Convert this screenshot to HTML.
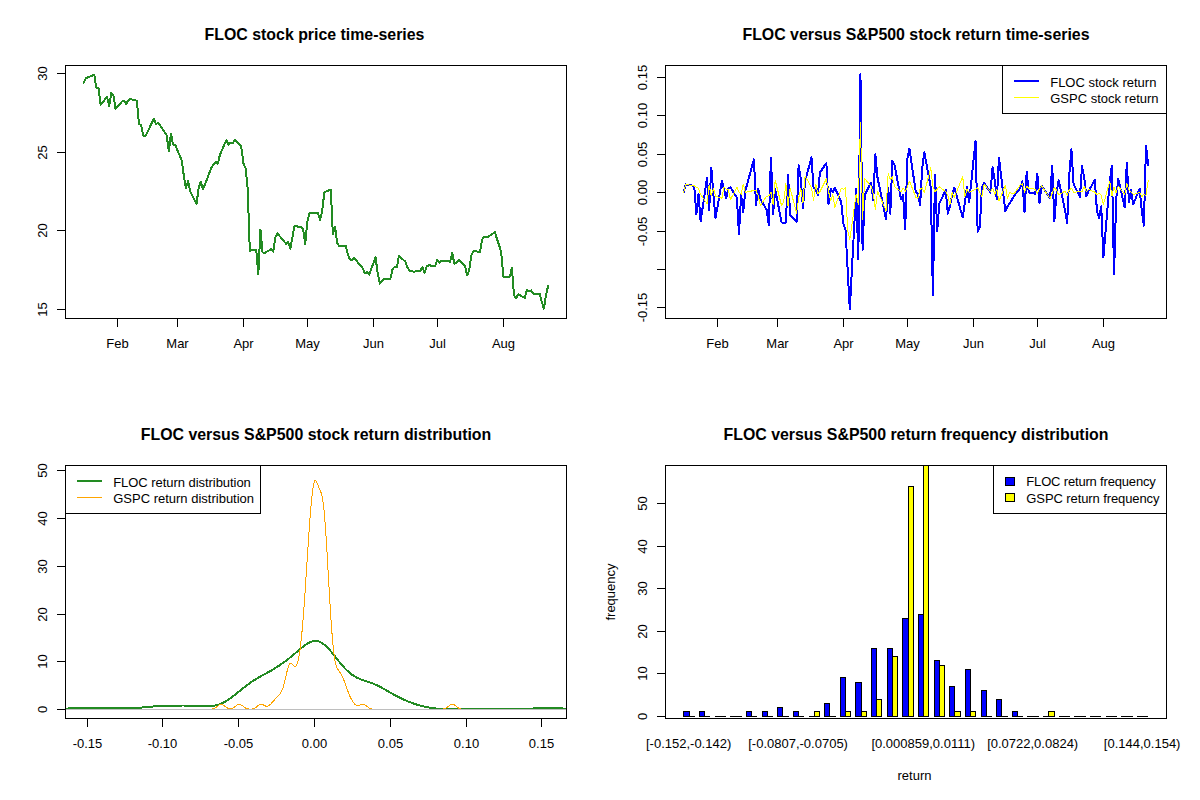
<!DOCTYPE html>
<html><head><meta charset="utf-8"><style>
html,body{margin:0;padding:0;background:#fff;}
svg{display:block;font-family:"Liberation Sans", sans-serif;}
</style></head><body>
<svg width="1200" height="800" viewBox="0 0 1200 800" shape-rendering="crispEdges">
<defs><clipPath id="c2"><rect x="666" y="66" width="500" height="252"/></clipPath><clipPath id="c3"><rect x="66" y="466" width="500" height="252"/></clipPath><clipPath id="c4"><rect x="666" y="466" width="500" height="252"/></clipPath></defs>
<rect width="1200" height="800" fill="#fff"/>
<rect x="65" y="65" width="502" height="1" fill="#000"/>
<rect x="65" y="318" width="502" height="1" fill="#000"/>
<rect x="65" y="65" width="1" height="254" fill="#000"/>
<rect x="566" y="65" width="1" height="254" fill="#000"/>
<rect x="117" y="319" width="1" height="8" fill="#000"/>
<text x="117.5" y="348" font-size="13" text-anchor="middle" font-weight="normal" fill="#000">Feb</text>
<rect x="177" y="319" width="1" height="8" fill="#000"/>
<text x="177.5" y="348" font-size="13" text-anchor="middle" font-weight="normal" fill="#000">Mar</text>
<rect x="243" y="319" width="1" height="8" fill="#000"/>
<text x="243.5" y="348" font-size="13" text-anchor="middle" font-weight="normal" fill="#000">Apr</text>
<rect x="307" y="319" width="1" height="8" fill="#000"/>
<text x="307.5" y="348" font-size="13" text-anchor="middle" font-weight="normal" fill="#000">May</text>
<rect x="373" y="319" width="1" height="8" fill="#000"/>
<text x="373.5" y="348" font-size="13" text-anchor="middle" font-weight="normal" fill="#000">Jun</text>
<rect x="437" y="319" width="1" height="8" fill="#000"/>
<text x="437.5" y="348" font-size="13" text-anchor="middle" font-weight="normal" fill="#000">Jul</text>
<rect x="503" y="319" width="1" height="8" fill="#000"/>
<text x="503.5" y="348" font-size="13" text-anchor="middle" font-weight="normal" fill="#000">Aug</text>
<rect x="57" y="309" width="8" height="1" fill="#000"/>
<text x="0" y="0" transform="translate(47,309.5) rotate(-90)" font-size="13" text-anchor="middle" font-weight="normal" fill="#000">15</text>
<rect x="57" y="230" width="8" height="1" fill="#000"/>
<text x="0" y="0" transform="translate(47,230.5) rotate(-90)" font-size="13" text-anchor="middle" font-weight="normal" fill="#000">20</text>
<rect x="57" y="152" width="8" height="1" fill="#000"/>
<text x="0" y="0" transform="translate(47,152.5) rotate(-90)" font-size="13" text-anchor="middle" font-weight="normal" fill="#000">25</text>
<rect x="57" y="73" width="8" height="1" fill="#000"/>
<text x="0" y="0" transform="translate(47,73.5) rotate(-90)" font-size="13" text-anchor="middle" font-weight="normal" fill="#000">30</text>
<text x="314.5" y="39.5" font-size="15.9" text-anchor="middle" font-weight="bold" fill="#000">FLOC stock price time-series</text>
<rect x="665" y="65" width="502" height="1" fill="#000"/>
<rect x="665" y="318" width="502" height="1" fill="#000"/>
<rect x="665" y="65" width="1" height="254" fill="#000"/>
<rect x="1166" y="65" width="1" height="254" fill="#000"/>
<rect x="717" y="319" width="1" height="8" fill="#000"/>
<text x="717.5" y="348" font-size="13" text-anchor="middle" font-weight="normal" fill="#000">Feb</text>
<rect x="777" y="319" width="1" height="8" fill="#000"/>
<text x="777.5" y="348" font-size="13" text-anchor="middle" font-weight="normal" fill="#000">Mar</text>
<rect x="843" y="319" width="1" height="8" fill="#000"/>
<text x="843.5" y="348" font-size="13" text-anchor="middle" font-weight="normal" fill="#000">Apr</text>
<rect x="907" y="319" width="1" height="8" fill="#000"/>
<text x="907.5" y="348" font-size="13" text-anchor="middle" font-weight="normal" fill="#000">May</text>
<rect x="973" y="319" width="1" height="8" fill="#000"/>
<text x="973.5" y="348" font-size="13" text-anchor="middle" font-weight="normal" fill="#000">Jun</text>
<rect x="1037" y="319" width="1" height="8" fill="#000"/>
<text x="1037.5" y="348" font-size="13" text-anchor="middle" font-weight="normal" fill="#000">Jul</text>
<rect x="1103" y="319" width="1" height="8" fill="#000"/>
<text x="1103.5" y="348" font-size="13" text-anchor="middle" font-weight="normal" fill="#000">Aug</text>
<rect x="657" y="77" width="8" height="1" fill="#000"/>
<text x="0" y="0" transform="translate(647,77.5) rotate(-90)" font-size="13" text-anchor="middle" font-weight="normal" fill="#000">0.15</text>
<rect x="657" y="115" width="8" height="1" fill="#000"/>
<text x="0" y="0" transform="translate(647,115.5) rotate(-90)" font-size="13" text-anchor="middle" font-weight="normal" fill="#000">0.10</text>
<rect x="657" y="154" width="8" height="1" fill="#000"/>
<text x="0" y="0" transform="translate(647,154.5) rotate(-90)" font-size="13" text-anchor="middle" font-weight="normal" fill="#000">0.05</text>
<rect x="657" y="192" width="8" height="1" fill="#000"/>
<text x="0" y="0" transform="translate(647,192.5) rotate(-90)" font-size="13" text-anchor="middle" font-weight="normal" fill="#000">0.00</text>
<rect x="657" y="231" width="8" height="1" fill="#000"/>
<text x="0" y="0" transform="translate(647,231.5) rotate(-90)" font-size="13" text-anchor="middle" font-weight="normal" fill="#000">-0.05</text>
<rect x="657" y="269" width="8" height="1" fill="#000"/>
<rect x="657" y="307" width="8" height="1" fill="#000"/>
<text x="0" y="0" transform="translate(647,307.5) rotate(-90)" font-size="13" text-anchor="middle" font-weight="normal" fill="#000">-0.15</text>
<text x="916" y="39.5" font-size="15.9" text-anchor="middle" font-weight="bold" fill="#000">FLOC versus S&amp;P500 stock return time-series</text>
<rect x="65" y="465" width="502" height="1" fill="#000"/>
<rect x="65" y="718" width="502" height="1" fill="#000"/>
<rect x="65" y="465" width="1" height="254" fill="#000"/>
<rect x="566" y="465" width="1" height="254" fill="#000"/>
<rect x="87" y="719" width="1" height="8" fill="#000"/>
<text x="87.5" y="748" font-size="13" text-anchor="middle" font-weight="normal" fill="#000">-0.15</text>
<rect x="162" y="719" width="1" height="8" fill="#000"/>
<text x="162.5" y="748" font-size="13" text-anchor="middle" font-weight="normal" fill="#000">-0.10</text>
<rect x="238" y="719" width="1" height="8" fill="#000"/>
<text x="238.5" y="748" font-size="13" text-anchor="middle" font-weight="normal" fill="#000">-0.05</text>
<rect x="314" y="719" width="1" height="8" fill="#000"/>
<text x="314.5" y="748" font-size="13" text-anchor="middle" font-weight="normal" fill="#000">0.00</text>
<rect x="390" y="719" width="1" height="8" fill="#000"/>
<text x="390.5" y="748" font-size="13" text-anchor="middle" font-weight="normal" fill="#000">0.05</text>
<rect x="466" y="719" width="1" height="8" fill="#000"/>
<text x="466.5" y="748" font-size="13" text-anchor="middle" font-weight="normal" fill="#000">0.10</text>
<rect x="541" y="719" width="1" height="8" fill="#000"/>
<text x="541.5" y="748" font-size="13" text-anchor="middle" font-weight="normal" fill="#000">0.15</text>
<rect x="57" y="709" width="8" height="1" fill="#000"/>
<text x="0" y="0" transform="translate(47,709.5) rotate(-90)" font-size="13" text-anchor="middle" font-weight="normal" fill="#000">0</text>
<rect x="57" y="661" width="8" height="1" fill="#000"/>
<text x="0" y="0" transform="translate(47,661.5) rotate(-90)" font-size="13" text-anchor="middle" font-weight="normal" fill="#000">10</text>
<rect x="57" y="614" width="8" height="1" fill="#000"/>
<text x="0" y="0" transform="translate(47,614.5) rotate(-90)" font-size="13" text-anchor="middle" font-weight="normal" fill="#000">20</text>
<rect x="57" y="566" width="8" height="1" fill="#000"/>
<text x="0" y="0" transform="translate(47,566.5) rotate(-90)" font-size="13" text-anchor="middle" font-weight="normal" fill="#000">30</text>
<rect x="57" y="518" width="8" height="1" fill="#000"/>
<text x="0" y="0" transform="translate(47,518.5) rotate(-90)" font-size="13" text-anchor="middle" font-weight="normal" fill="#000">40</text>
<rect x="57" y="470" width="8" height="1" fill="#000"/>
<text x="0" y="0" transform="translate(47,470.5) rotate(-90)" font-size="13" text-anchor="middle" font-weight="normal" fill="#000">50</text>
<text x="316" y="439.5" font-size="15.9" text-anchor="middle" font-weight="bold" fill="#000">FLOC versus S&amp;P500 stock return distribution</text>
<rect x="665" y="465" width="502" height="1" fill="#000"/>
<rect x="665" y="718" width="502" height="1" fill="#000"/>
<rect x="665" y="465" width="1" height="254" fill="#000"/>
<rect x="1166" y="465" width="1" height="254" fill="#000"/>
<rect x="657" y="716" width="8" height="1" fill="#000"/>
<text x="0" y="0" transform="translate(647,716.5) rotate(-90)" font-size="13" text-anchor="middle" font-weight="normal" fill="#000">0</text>
<rect x="657" y="673" width="8" height="1" fill="#000"/>
<text x="0" y="0" transform="translate(647,673.5) rotate(-90)" font-size="13" text-anchor="middle" font-weight="normal" fill="#000">10</text>
<rect x="657" y="631" width="8" height="1" fill="#000"/>
<text x="0" y="0" transform="translate(647,631.5) rotate(-90)" font-size="13" text-anchor="middle" font-weight="normal" fill="#000">20</text>
<rect x="657" y="588" width="8" height="1" fill="#000"/>
<text x="0" y="0" transform="translate(647,588.5) rotate(-90)" font-size="13" text-anchor="middle" font-weight="normal" fill="#000">30</text>
<rect x="657" y="546" width="8" height="1" fill="#000"/>
<text x="0" y="0" transform="translate(647,546.5) rotate(-90)" font-size="13" text-anchor="middle" font-weight="normal" fill="#000">40</text>
<rect x="657" y="503" width="8" height="1" fill="#000"/>
<text x="0" y="0" transform="translate(647,503.5) rotate(-90)" font-size="13" text-anchor="middle" font-weight="normal" fill="#000">50</text>
<text x="916" y="439.5" font-size="15.9" text-anchor="middle" font-weight="bold" fill="#000">FLOC versus S&amp;P500 return frequency distribution</text>
<text x="0" y="0" transform="translate(614.5,592) rotate(-90)" font-size="13" text-anchor="middle" font-weight="normal" fill="#000">frequency</text>
<text x="914.5" y="779.5" font-size="13" text-anchor="middle" font-weight="normal" fill="#000">return</text>
<text x="688.6129999999999" y="748" font-size="13" text-anchor="middle" font-weight="normal" fill="#000">[-0.152,-0.142)</text>
<text x="798.086" y="748" font-size="13" text-anchor="middle" font-weight="normal" fill="#000">[-0.0807,-0.0705)</text>
<text x="923.198" y="748" font-size="13" text-anchor="middle" font-weight="normal" fill="#000">[0.000859,0.0111)</text>
<text x="1032.671" y="748" font-size="13" text-anchor="middle" font-weight="normal" fill="#000">[0.0722,0.0824)</text>
<text x="1142.144" y="748" font-size="13" text-anchor="middle" font-weight="normal" fill="#000">[0.144,0.154)</text>
<polyline points="83.59,82.90 85.72,78.30 94.24,74.70 96.37,88.00 98.50,88.50 100.63,104.70 107.03,96.90 109.16,106.00 111.29,92.70 113.42,95.30 115.55,109.00 121.94,101.50 124.07,101.00 126.20,104.00 128.33,100.30 130.47,99.00 136.86,100.70 138.99,124.00 141.12,125.00 143.25,135.80 145.38,136.25 153.91,118.75 156.04,124.20 158.17,122.90 160.30,125.80 166.69,135.40 168.82,151.25 170.95,133.50 173.08,144.50 175.21,145.00 181.61,160.00 183.74,175.00 185.87,188.50 188.00,181.00 190.13,191.00 196.52,203.75 198.65,188.30 200.79,181.70 202.92,188.75 205.05,184.50 211.44,167.50 213.57,164.60 215.70,162.00 217.83,163.75 219.96,154.60 226.36,140.00 228.49,144.60 230.62,142.90 232.75,142.90 234.88,140.00 241.27,146.70 243.40,163.30 245.53,168.00 247.66,188.00 249.80,250.80 256.19,249.60 258.32,274.20 260.45,229.60 262.58,252.50 264.71,252.90 271.10,249.20 273.24,251.70 275.37,237.50 277.50,233.50 286.02,243.75 288.15,241.70 290.28,248.75 292.41,237.50 294.54,225.80 300.94,227.30 303.07,229.00 305.20,243.75 307.33,221.70 309.46,212.90 315.85,212.90 317.98,213.30 320.12,220.00 322.25,210.40 324.38,192.20 330.77,189.60 332.90,234.60 335.03,226.70 337.16,243.00 339.29,246.00 345.69,246.00 347.82,254.20 349.95,259.60 352.08,260.00 354.21,257.90 362.73,268.30 364.86,273.30 367.00,272.10 369.13,274.60 375.52,257.50 377.65,272.50 379.78,283.75 381.91,280.80 384.04,278.75 390.44,278.75 392.57,269.20 394.70,266.70 396.83,267.50 398.96,255.80 405.35,261.70 407.48,267.50 409.61,270.80 413.88,271.70 420.27,270.80 422.40,267.10 424.53,272.90 426.66,266.25 428.79,265.40 435.18,265.80 437.31,260.00 439.45,262.90 441.58,260.60 450.10,261.70 452.23,252.90 454.36,263.75 456.49,262.50 458.62,260.00 465.02,265.80 467.15,275.40 469.28,270.00 471.41,255.00 473.54,250.80 479.93,252.00 482.06,239.60 484.19,236.70 486.33,236.70 488.46,236.70 494.85,232.10 496.98,239.20 499.11,245.00 501.24,253.00 503.37,276.70 509.77,276.70 511.90,268.00 514.03,295.40 516.16,298.00 518.29,294.20 524.68,298.00 526.81,290.00 528.94,291.25 531.07,290.40 533.21,293.75 539.60,293.75 541.73,301.70 543.86,308.75 545.99,295.00 548.12,285.80" fill="none" stroke="#228B22" stroke-width="2" stroke-linejoin="round" stroke-linecap="round"/>
<g clip-path="url(#c2)">
<polyline points="683.59,192.50 685.72,184.40 694.24,186.00 696.37,214.40 698.50,193.75 700.63,221.25 707.03,178.10 709.16,210.00 711.29,167.50 713.42,195.00 715.55,218.10 721.94,180.60 724.07,190.00 726.20,198.00 728.33,188.75 730.47,187.50 736.86,197.50 738.99,233.75 741.12,195.00 743.25,212.00 745.38,190.50 753.91,159.40 756.04,205.00 758.17,188.75 760.30,198.75 766.69,210.00 768.82,225.00 770.95,157.50 773.08,214.40 775.21,189.40 781.61,222.50 783.74,222.50 785.87,222.50 788.00,174.40 790.13,215.00 796.52,221.90 798.65,165.00 800.79,178.75 802.92,208.10 805.05,181.25 811.44,157.50 813.57,187.50 815.70,189.40 817.83,195.00 819.96,172.50 826.36,163.10 828.49,204.40 830.62,188.75 832.75,192.50 834.88,187.50 841.27,202.50 843.40,224.00 845.53,230.00 847.66,270.00 849.80,309.40 856.19,189.00 858.32,259.20 860.45,74.25 862.58,249.80 864.71,195.00 871.10,182.50 873.24,200.00 875.37,154.40 877.50,177.50 886.02,219.40 888.15,187.50 890.28,213.75 892.41,160.60 894.54,165.00 900.94,198.75 903.07,195.00 905.20,229.40 907.33,158.75 909.46,148.75 915.85,192.50 917.98,193.75 920.12,205.00 922.25,167.50 924.38,152.50 930.77,187.50 932.90,295.50 935.03,174.40 937.16,231.25 939.29,203.75 945.69,190.00 947.82,213.75 949.95,206.00 952.08,195.00 954.21,187.50 962.73,217.50 964.86,202.50 967.00,186.90 969.13,202.50 975.52,141.25 977.65,231.90 979.78,227.50 981.91,187.50 984.04,183.10 990.44,192.50 992.57,167.50 994.70,180.00 996.83,199.40 998.96,157.50 1005.35,211.25 1007.48,206.25 1009.61,203.75 1013.88,196.25 1020.27,188.00 1022.40,181.25 1024.53,211.90 1026.66,171.90 1028.79,192.50 1035.18,193.75 1037.32,173.75 1039.45,203.10 1041.58,185.60 1050.10,198.10 1052.23,165.60 1054.36,221.25 1056.49,193.75 1058.62,180.00 1065.02,210.00 1067.15,223.10 1069.28,175.00 1071.41,149.40 1073.54,183.75 1079.93,196.90 1082.06,166.25 1084.19,177.50 1086.33,196.25 1088.46,191.25 1094.85,180.00 1096.98,211.25 1099.11,218.10 1101.24,206.25 1103.37,257.50 1109.77,181.00 1111.90,165.60 1114.03,274.40 1116.16,200.00 1118.29,178.75 1124.68,207.50 1126.81,163.10 1128.94,201.90 1131.07,190.00 1133.21,204.40 1139.60,188.75 1141.73,210.00 1143.86,225.60 1145.99,145.60 1148.12,165.00" fill="none" stroke="#0000FF" stroke-width="2" stroke-linejoin="round" stroke-linecap="round"/>
<polyline points="683.59,192.30 685.72,184.67 694.24,185.58 696.37,187.64 698.50,188.25 700.63,194.53 707.03,203.58 709.16,185.28 711.29,195.91 713.42,188.25 715.55,196.14 721.94,198.15 724.07,186.80 726.20,189.32 728.33,189.54 730.47,199.62 736.86,187.18 738.99,192.07 741.12,194.37 743.25,184.37 745.38,192.38 753.91,190.46 756.04,190.46 758.17,195.60 760.30,205.52 766.69,196.14 768.82,195.91 770.95,192.22 773.08,204.59 775.21,180.21 781.61,205.91 783.74,201.71 785.87,183.76 788.00,206.07 790.13,188.09 796.52,213.29 798.65,198.15 800.79,188.55 802.92,203.03 805.05,176.14 811.44,187.41 813.57,200.55 815.70,184.06 817.83,193.99 819.96,191.69 826.36,178.92 828.49,191.07 830.62,200.94 832.75,194.83 834.88,207.55 841.27,188.09 843.40,189.39 845.53,187.18 847.66,230.34 849.80,239.50 856.19,194.07 858.32,204.43 860.45,122.58 862.58,219.30 864.71,178.55 871.10,186.27 873.24,193.60 875.37,209.67 877.50,191.30 886.02,210.61 888.15,173.29 890.28,179.60 892.41,176.89 894.54,186.65 900.94,191.84 903.07,187.87 905.20,191.15 907.33,187.48 909.46,181.11 915.85,197.22 917.98,198.23 920.12,189.01 922.25,187.87 924.38,192.84 930.77,167.70 932.90,186.80 935.03,191.53 937.16,189.16 939.29,186.95 945.69,191.61 947.82,195.30 949.95,204.74 952.08,192.61 954.21,197.45 962.73,176.74 964.86,196.61 967.00,189.24 969.13,192.38 975.52,189.16 977.65,187.87 979.78,192.22 981.91,196.37 984.04,184.44 990.44,191.61 992.57,188.09 994.70,194.37 996.83,189.39 998.96,201.01 1005.35,185.13 1007.48,198.77 1009.61,192.53 1013.88,193.99 1020.27,184.97 1022.40,183.84 1024.53,192.30 1026.66,186.19 1028.79,188.32 1035.18,189.16 1037.32,193.14 1039.45,188.70 1041.58,185.96 1050.10,198.38 1052.23,192.84 1054.36,187.64 1056.49,190.23 1058.62,194.83 1065.02,191.23 1067.15,195.37 1069.28,189.85 1071.41,188.17 1073.54,192.38 1079.93,191.23 1082.06,191.84 1084.19,186.34 1086.33,191.76 1088.46,189.24 1094.85,192.15 1096.98,194.60 1099.11,193.22 1101.24,195.14 1103.37,204.67 1109.77,181.11 1111.90,196.07 1114.03,186.72 1116.16,192.91 1118.29,186.34 1124.68,194.22 1126.81,183.68 1128.94,189.85 1131.07,192.07 1133.21,194.53 1139.60,192.38 1141.73,196.84 1143.86,194.14 1145.99,195.37 1148.12,180.73" fill="none" stroke="#FFFF00" stroke-width="1" stroke-linejoin="round" stroke-linecap="round"/>
</g>
<rect x="1002" y="65" width="165" height="49" fill="#fff"/>
<rect x="1002" y="65" width="165" height="1" fill="#000"/>
<rect x="1002" y="113" width="165" height="1" fill="#000"/>
<rect x="1002" y="65" width="1" height="49" fill="#000"/>
<rect x="1166" y="65" width="1" height="49" fill="#000"/>
<rect x="1014" y="80" width="25" height="2" fill="#0000FF"/>
<rect x="1014" y="97" width="25" height="1" fill="#FFFF00"/>
<text x="1050.2" y="86.7" font-size="13" text-anchor="start" font-weight="normal" fill="#000">FLOC stock return</text>
<text x="1050.2" y="102.5" font-size="13" text-anchor="start" font-weight="normal" fill="#000">GSPC stock return</text>
<g clip-path="url(#c3)">
<polyline points="39.58,709.29 40.66,709.28 41.74,709.28 42.82,709.27 43.90,709.27 44.98,709.26 46.06,709.25 47.13,709.24 48.21,709.23 49.29,709.21 50.37,709.20 51.45,709.18 52.53,709.15 53.61,709.13 54.69,709.10 55.77,709.07 56.85,709.04 57.93,709.00 59.01,708.96 60.09,708.92 61.17,708.87 62.25,708.82 63.33,708.77 64.41,708.71 65.49,708.65 66.57,708.59 67.65,708.53 68.73,708.46 69.81,708.40 70.89,708.34 71.97,708.27 73.05,708.21 74.13,708.15 75.21,708.09 76.29,708.03 77.37,707.98 78.45,707.93 79.53,707.88 80.61,707.84 81.69,707.80 82.76,707.77 83.84,707.74 84.92,707.71 86.00,707.69 87.08,707.67 88.16,707.66 89.24,707.65 90.32,707.64 91.40,707.63 92.48,707.62 93.56,707.62 94.64,707.62 95.72,707.62 96.80,707.62 97.88,707.62 98.96,707.62 100.04,707.62 101.12,707.62 102.20,707.63 103.28,707.63 104.36,707.64 105.44,707.65 106.52,707.66 107.60,707.68 108.68,707.70 109.76,707.72 110.84,707.75 111.92,707.77 113.00,707.81 114.08,707.84 115.16,707.88 116.24,707.91 117.32,707.95 118.39,707.99 119.47,708.03 120.55,708.07 121.63,708.11 122.71,708.14 123.79,708.17 124.87,708.19 125.95,708.21 127.03,708.22 128.11,708.23 129.19,708.22 130.27,708.21 131.35,708.19 132.43,708.16 133.51,708.12 134.59,708.08 135.67,708.02 136.75,707.95 137.83,707.88 138.91,707.80 139.99,707.71 141.07,707.62 142.15,707.52 143.23,707.42 144.31,707.32 145.39,707.22 146.47,707.11 147.55,707.01 148.63,706.91 149.71,706.81 150.79,706.72 151.87,706.63 152.95,706.54 154.02,706.47 155.10,706.39 156.18,706.32 157.26,706.26 158.34,706.20 159.42,706.15 160.50,706.11 161.58,706.06 162.66,706.02 163.74,705.99 164.82,705.95 165.90,705.92 166.98,705.88 168.06,705.85 169.14,705.82 170.22,705.79 171.30,705.76 172.38,705.73 173.46,705.69 174.54,705.66 175.62,705.63 176.70,705.61 177.78,705.58 178.86,705.56 179.94,705.54 181.02,705.52 182.10,705.51 183.18,705.50 184.26,705.51 185.34,705.52 186.42,705.53 187.50,705.55 188.58,705.59 189.65,705.62 190.73,705.67 191.81,705.72 192.89,705.78 193.97,705.84 195.05,705.91 196.13,705.98 197.21,706.05 198.29,706.12 199.37,706.19 200.45,706.25 201.53,706.31 202.61,706.36 203.69,706.40 204.77,706.43 205.85,706.44 206.93,706.44 208.01,706.41 209.09,706.36 210.17,706.29 211.25,706.19 212.33,706.06 213.41,705.90 214.49,705.70 215.57,705.47 216.65,705.20 217.73,704.89 218.81,704.54 219.89,704.15 220.97,703.72 222.05,703.25 223.13,702.74 224.20,702.19 225.28,701.60 226.36,700.97 227.44,700.30 228.52,699.60 229.60,698.87 230.68,698.11 231.76,697.32 232.84,696.51 233.92,695.67 235.00,694.82 236.08,693.96 237.16,693.08 238.24,692.20 239.32,691.31 240.40,690.42 241.48,689.54 242.56,688.66 243.64,687.79 244.72,686.94 245.80,686.09 246.88,685.27 247.96,684.46 249.04,683.67 250.12,682.90 251.20,682.15 252.28,681.42 253.36,680.71 254.44,680.02 255.52,679.35 256.60,678.70 257.68,678.06 258.76,677.44 259.83,676.83 260.91,676.23 261.99,675.64 263.07,675.05 264.15,674.46 265.23,673.87 266.31,673.28 267.39,672.69 268.47,672.09 269.55,671.49 270.63,670.87 271.71,670.25 272.79,669.61 273.87,668.96 274.95,668.30 276.03,667.63 277.11,666.94 278.19,666.24 279.27,665.52 280.35,664.79 281.43,664.05 282.51,663.29 283.59,662.52 284.67,661.73 285.75,660.92 286.83,660.11 287.91,659.27 288.99,658.42 290.07,657.56 291.15,656.68 292.23,655.79 293.31,654.89 294.39,653.98 295.46,653.06 296.54,652.14 297.62,651.21 298.70,650.29 299.78,649.37 300.86,648.47 301.94,647.59 303.02,646.73 304.10,645.90 305.18,645.11 306.26,644.37 307.34,643.69 308.42,643.06 309.50,642.51 310.58,642.03 311.66,641.64 312.74,641.33 313.82,641.13 314.90,641.02 315.98,641.02 317.06,641.13 318.14,641.35 319.22,641.68 320.30,642.11 321.38,642.66 322.46,643.31 323.54,644.06 324.62,644.90 325.70,645.83 326.78,646.85 327.86,647.94 328.94,649.10 330.02,650.31 331.09,651.58 332.17,652.88 333.25,654.21 334.33,655.57 335.41,656.94 336.49,658.31 337.57,659.68 338.65,661.04 339.73,662.38 340.81,663.70 341.89,664.98 342.97,666.22 344.05,667.43 345.13,668.58 346.21,669.69 347.29,670.74 348.37,671.74 349.45,672.68 350.53,673.56 351.61,674.39 352.69,675.16 353.77,675.87 354.85,676.53 355.93,677.14 357.01,677.70 358.09,678.22 359.17,678.70 360.25,679.15 361.33,679.57 362.41,679.96 363.49,680.34 364.57,680.70 365.65,681.05 366.72,681.40 367.80,681.76 368.88,682.12 369.96,682.49 371.04,682.87 372.12,683.27 373.20,683.69 374.28,684.13 375.36,684.59 376.44,685.07 377.52,685.57 378.60,686.10 379.68,686.64 380.76,687.20 381.84,687.77 382.92,688.36 384.00,688.96 385.08,689.57 386.16,690.19 387.24,690.81 388.32,691.44 389.40,692.06 390.48,692.68 391.56,693.29 392.64,693.90 393.72,694.51 394.80,695.10 395.88,695.68 396.96,696.25 398.04,696.81 399.12,697.36 400.20,697.90 401.27,698.42 402.35,698.93 403.43,699.43 404.51,699.91 405.59,700.38 406.67,700.84 407.75,701.29 408.83,701.72 409.91,702.15 410.99,702.56 412.07,702.96 413.15,703.34 414.23,703.72 415.31,704.08 416.39,704.43 417.47,704.77 418.55,705.10 419.63,705.41 420.71,705.71 421.79,706.00 422.87,706.27 423.95,706.53 425.03,706.77 426.11,707.00 427.19,707.22 428.27,707.42 429.35,707.61 430.43,707.79 431.51,707.95 432.59,708.10 433.67,708.24 434.75,708.36 435.83,708.48 436.90,708.58 437.98,708.67 439.06,708.76 440.14,708.83 441.22,708.90 442.30,708.96 443.38,709.01 444.46,709.05 445.54,709.09 446.62,709.12 447.70,709.15 448.78,709.18 449.86,709.20 450.94,709.22 452.02,709.23 453.10,709.24 454.18,709.25 455.26,709.26 456.34,709.27 457.42,709.28 458.50,709.28 459.58,709.29 460.66,709.29 461.74,709.29 462.82,709.29 463.90,709.29 464.98,709.30 466.06,709.30 467.14,709.30 468.22,709.30 469.30,709.30 470.38,709.30 471.46,709.30 472.53,709.30 473.61,709.30 474.69,709.30 475.77,709.30 476.85,709.30 477.93,709.30 479.01,709.30 480.09,709.30 481.17,709.30 482.25,709.30 483.33,709.30 484.41,709.30 485.49,709.30 486.57,709.30 487.65,709.30 488.73,709.30 489.81,709.30 490.89,709.30 491.97,709.30 493.05,709.30 494.13,709.30 495.21,709.30 496.29,709.30 497.37,709.30 498.45,709.30 499.53,709.30 500.61,709.29 501.69,709.29 502.77,709.29 503.85,709.29 504.93,709.28 506.01,709.28 507.09,709.28 508.16,709.27 509.24,709.26 510.32,709.25 511.40,709.25 512.48,709.23 513.56,709.22 514.64,709.21 515.72,709.19 516.80,709.17 517.88,709.15 518.96,709.12 520.04,709.09 521.12,709.06 522.20,709.03 523.28,708.99 524.36,708.95 525.44,708.91 526.52,708.86 527.60,708.81 528.68,708.75 529.76,708.70 530.84,708.64 531.92,708.58 533.00,708.52 534.08,708.46 535.16,708.40 536.24,708.35 537.32,708.29 538.40,708.24 539.48,708.18 540.56,708.14 541.64,708.10 542.72,708.06 543.79,708.03 544.87,708.01 545.95,707.99 547.03,707.98 548.11,707.98 549.19,707.98 550.27,708.00 551.35,708.01 552.43,708.04 553.51,708.07 554.59,708.11 555.67,708.15 556.75,708.20 557.83,708.25 558.91,708.31 559.99,708.37 561.07,708.43 562.15,708.49 563.23,708.54 564.31,708.60 565.39,708.66 566.47,708.72 567.55,708.77 568.63,708.83 569.71,708.87 570.79,708.92 571.87,708.96 572.95,709.00 574.03,709.04 575.11,709.07 576.19,709.10 577.27,709.13 578.34,709.16 579.42,709.18 580.50,709.20 581.58,709.21 582.66,709.23 583.74,709.24 584.82,709.25 585.90,709.26 586.98,709.27 588.06,709.27 589.14,709.28 590.22,709.28 591.30,709.29" fill="none" stroke="#228B22" stroke-width="2" stroke-linejoin="round" stroke-linecap="round"/>
<polyline points="209.77,709.24 210.27,709.22 210.76,709.18 211.26,709.13 211.76,709.07 212.26,708.98 212.75,708.87 213.25,708.73 213.75,708.56 214.24,708.36 214.74,708.11 215.24,707.83 215.74,707.51 216.23,707.16 216.73,706.79 217.23,706.40 217.72,706.01 218.22,705.62 218.72,705.26 219.21,704.95 219.71,704.68 220.21,704.48 220.71,704.36 221.20,704.32 221.70,704.37 222.20,704.50 222.69,704.70 223.19,704.97 223.69,705.29 224.19,705.66 224.68,706.04 225.18,706.43 225.68,706.82 226.17,707.18 226.67,707.52 227.17,707.83 227.66,708.09 228.16,708.31 228.66,708.48 229.16,708.60 229.65,708.68 230.15,708.71 230.65,708.70 231.14,708.64 231.64,708.53 232.14,708.37 232.64,708.17 233.13,707.92 233.63,707.63 234.13,707.30 234.62,706.95 235.12,706.57 235.62,706.17 236.11,705.79 236.61,705.41 237.11,705.08 237.61,704.79 238.10,704.56 238.60,704.40 239.10,704.33 239.59,704.34 240.09,704.43 240.59,704.60 241.09,704.85 241.58,705.15 242.08,705.50 242.58,705.87 243.07,706.27 243.57,706.66 244.07,707.04 244.57,707.40 245.06,707.73 245.56,708.02 246.06,708.28 246.55,708.49 247.05,708.67 247.55,708.82 248.04,708.93 248.54,709.02 249.04,709.08 249.54,709.12 250.03,709.14 250.53,709.13 251.03,709.11 251.52,709.07 252.02,709.00 252.52,708.90 253.02,708.78 253.51,708.62 254.01,708.43 254.51,708.20 255.00,707.93 255.50,707.63 256.00,707.29 256.49,706.92 256.99,706.54 257.49,706.14 257.99,705.75 258.48,705.38 258.98,705.04 259.48,704.76 259.97,704.53 260.47,704.37 260.97,704.29 261.47,704.29 261.96,704.37 262.46,704.52 262.96,704.72 263.45,704.96 263.95,705.23 264.45,705.50 264.94,705.76 265.44,705.98 265.94,706.16 266.44,706.26 266.93,706.29 267.43,706.24 267.93,706.11 268.42,705.89 268.92,705.59 269.42,705.23 269.92,704.80 270.41,704.33 270.91,703.82 271.41,703.28 271.90,702.72 272.40,702.16 272.90,701.60 273.39,701.03 273.89,700.47 274.39,699.91 274.89,699.36 275.38,698.82 275.88,698.28 276.38,697.75 276.87,697.22 277.37,696.70 277.87,696.18 278.37,695.66 278.86,695.12 279.36,694.56 279.86,693.96 280.35,693.29 280.85,692.54 281.35,691.67 281.84,690.66 282.34,689.49 282.84,688.14 283.34,686.60 283.83,684.89 284.33,683.00 284.83,680.97 285.32,678.83 285.82,676.63 286.32,674.43 286.82,672.30 287.31,670.29 287.81,668.46 288.31,666.87 288.80,665.57 289.30,664.56 289.80,663.88 290.30,663.50 290.79,663.42 291.29,663.57 291.79,663.92 292.28,664.41 292.78,664.96 293.28,665.50 293.77,665.98 294.27,666.34 294.77,666.51 295.27,666.46 295.76,666.15 296.26,665.54 296.76,664.63 297.25,663.37 297.75,661.77 298.25,659.80 298.75,657.44 299.24,654.70 299.74,651.54 300.24,647.96 300.73,643.95 301.23,639.51 301.73,634.63 302.22,629.32 302.72,623.60 303.22,617.48 303.72,611.01 304.21,604.20 304.71,597.12 305.21,589.80 305.70,582.31 306.20,574.69 306.70,567.02 307.20,559.35 307.69,551.72 308.19,544.20 308.69,536.84 309.18,529.69 309.68,522.80 310.18,516.22 310.67,510.02 311.17,504.26 311.67,499.00 312.17,494.31 312.66,490.25 313.16,486.87 313.66,484.21 314.15,482.26 314.65,481.03 315.15,480.45 315.65,480.46 316.14,480.95 316.64,481.81 317.14,482.93 317.63,484.17 318.13,485.46 318.63,486.72 319.12,487.91 319.62,489.05 320.12,490.18 320.62,491.38 321.11,492.76 321.61,494.43 322.11,496.52 322.60,499.15 323.10,502.42 323.60,506.40 324.10,511.12 324.59,516.60 325.09,522.79 325.59,529.65 326.08,537.10 326.58,545.03 327.08,553.34 327.57,561.91 328.07,570.63 328.57,579.39 329.07,588.09 329.56,596.63 330.06,604.92 330.56,612.87 331.05,620.43 331.55,627.51 332.05,634.07 332.55,640.05 333.04,645.42 333.54,650.16 334.04,654.28 334.53,657.78 335.03,660.71 335.53,663.10 336.02,665.04 336.52,666.58 337.02,667.80 337.52,668.79 338.01,669.61 338.51,670.34 339.01,671.02 339.50,671.71 340.00,672.43 340.50,673.20 341.00,674.04 341.49,674.95 341.99,675.93 342.49,676.97 342.98,678.07 343.48,679.24 343.98,680.45 344.48,681.72 344.97,683.03 345.47,684.37 345.97,685.75 346.46,687.15 346.96,688.55 347.46,689.95 347.95,691.32 348.45,692.66 348.95,693.94 349.45,695.17 349.94,696.33 350.44,697.41 350.94,698.43 351.43,699.37 351.93,700.25 352.43,701.06 352.93,701.81 353.42,702.51 353.92,703.15 354.42,703.73 354.91,704.24 355.41,704.69 355.91,705.07 356.40,705.36 356.90,705.57 357.40,705.69 357.90,705.73 358.39,705.70 358.89,705.59 359.39,705.42 359.88,705.22 360.38,705.00 360.88,704.78 361.38,704.57 361.87,704.41 362.37,704.29 362.87,704.25 363.36,704.27 363.86,704.37 364.36,704.55 364.85,704.79 365.35,705.09 365.85,705.44 366.35,705.81 366.84,706.20 367.34,706.60 367.84,706.98 368.33,707.35 368.83,707.68 369.33,707.98 369.83,708.24 370.32,708.47 370.82,708.65 371.32,708.81 371.81,708.93 372.31,709.03 372.81,709.10 373.30,709.16 373.80,709.20 374.30,709.23 374.80,709.25 375.29,709.27 375.79,709.28 376.29,709.29 376.78,709.29 377.28,709.30 377.78,709.30 378.28,709.30 378.77,709.30 379.27,709.30 379.77,709.30 380.26,709.30 380.76,709.30 381.26,709.30 381.75,709.30 382.25,709.30 382.75,709.30 383.25,709.30 383.74,709.30 384.24,709.30 384.74,709.30 385.23,709.30 385.73,709.30 386.23,709.30 386.73,709.30 387.22,709.30 387.72,709.30 388.22,709.30 388.71,709.30 389.21,709.30 389.71,709.30 390.21,709.30 390.70,709.30 391.20,709.30 391.70,709.30 392.19,709.30 392.69,709.30 393.19,709.30 393.68,709.30 394.18,709.30 394.68,709.30 395.18,709.30 395.67,709.30 396.17,709.30 396.67,709.30 397.16,709.30 397.66,709.30 398.16,709.30 398.66,709.30 399.15,709.30 399.65,709.30 400.15,709.30 400.64,709.30 401.14,709.30 401.64,709.30 402.13,709.30 402.63,709.30 403.13,709.30 403.63,709.30 404.12,709.30 404.62,709.30 405.12,709.30 405.61,709.30 406.11,709.30 406.61,709.30 407.11,709.30 407.60,709.30 408.10,709.30 408.60,709.30 409.09,709.30 409.59,709.30 410.09,709.30 410.58,709.30 411.08,709.30 411.58,709.30 412.08,709.30 412.57,709.30 413.07,709.30 413.57,709.30 414.06,709.30 414.56,709.30 415.06,709.30 415.56,709.30 416.05,709.30 416.55,709.30 417.05,709.30 417.54,709.30 418.04,709.30 418.54,709.30 419.03,709.30 419.53,709.30 420.03,709.30 420.53,709.30 421.02,709.30 421.52,709.30 422.02,709.30 422.51,709.30 423.01,709.30 423.51,709.30 424.01,709.30 424.50,709.30 425.00,709.30 425.50,709.30 425.99,709.30 426.49,709.30 426.99,709.30 427.48,709.30 427.98,709.30 428.48,709.30 428.98,709.30 429.47,709.30 429.97,709.30 430.47,709.30 430.96,709.30 431.46,709.30 431.96,709.30 432.46,709.30 432.95,709.30 433.45,709.30 433.95,709.30 434.44,709.30 434.94,709.30 435.44,709.30 435.93,709.30 436.43,709.30 436.93,709.30 437.43,709.30 437.92,709.30 438.42,709.29 438.92,709.29 439.41,709.28 439.91,709.28 440.41,709.26 440.91,709.25 441.40,709.22 441.90,709.19 442.40,709.14 442.89,709.08 443.39,708.99 443.89,708.88 444.39,708.75 444.88,708.58 445.38,708.38 445.88,708.14 446.37,707.86 446.87,707.54 447.37,707.20 447.86,706.83 448.36,706.44 448.86,706.04 449.36,705.66 449.85,705.30 450.35,704.97 450.85,704.70 451.34,704.50 451.84,704.37 452.34,704.32 452.84,704.36 453.33,704.48 453.83,704.68 454.33,704.95 454.82,705.26 455.32,705.62 455.82,706.01 456.31,706.40 456.81,706.79 457.31,707.16 457.81,707.51 458.30,707.83 458.80,708.11 459.30,708.36 459.79,708.56 460.29,708.73 460.79,708.87 461.29,708.98 461.78,709.07 462.28,709.13 462.78,709.18 463.27,709.22 463.77,709.24" fill="none" stroke="#FFA500" stroke-width="1" stroke-linejoin="round" stroke-linecap="round"/>
</g>
<rect x="66" y="709" width="500" height="1" fill="#BEBEBE"/>
<rect x="65" y="465" width="196" height="49" fill="#fff"/>
<rect x="65" y="465" width="196" height="1" fill="#000"/>
<rect x="65" y="513" width="196" height="1" fill="#000"/>
<rect x="65" y="465" width="1" height="49" fill="#000"/>
<rect x="260" y="465" width="1" height="49" fill="#000"/>
<rect x="77" y="480" width="25" height="2" fill="#228B22"/>
<rect x="77" y="497" width="25" height="1" fill="#FFA500"/>
<text x="113.2" y="486.7" font-size="13" text-anchor="start" font-weight="normal" fill="#000" textLength="137.6" lengthAdjust="spacing">FLOC return distribution</text>
<text x="113.2" y="502.5" font-size="13" text-anchor="start" font-weight="normal" fill="#000">GSPC return distribution</text>
<g clip-path="url(#c4)">
<rect x="683" y="711" width="7" height="6" fill="#0000FF"/>
<rect x="683" y="711" width="7" height="1" fill="#000"/>
<rect x="683" y="716" width="7" height="1" fill="#000"/>
<rect x="683" y="711" width="1" height="6" fill="#000"/>
<rect x="689" y="711" width="1" height="6" fill="#000"/>
<rect x="689" y="716" width="6" height="1" fill="#000"/>
<rect x="699" y="711" width="6" height="6" fill="#0000FF"/>
<rect x="699" y="711" width="6" height="1" fill="#000"/>
<rect x="699" y="716" width="6" height="1" fill="#000"/>
<rect x="699" y="711" width="1" height="6" fill="#000"/>
<rect x="704" y="711" width="1" height="6" fill="#000"/>
<rect x="704" y="716" width="6" height="1" fill="#000"/>
<rect x="715" y="716" width="6" height="1" fill="#000"/>
<rect x="720" y="716" width="6" height="1" fill="#000"/>
<rect x="730" y="716" width="7" height="1" fill="#000"/>
<rect x="736" y="716" width="6" height="1" fill="#000"/>
<rect x="746" y="711" width="6" height="6" fill="#0000FF"/>
<rect x="746" y="711" width="6" height="1" fill="#000"/>
<rect x="746" y="716" width="6" height="1" fill="#000"/>
<rect x="746" y="711" width="1" height="6" fill="#000"/>
<rect x="751" y="711" width="1" height="6" fill="#000"/>
<rect x="751" y="716" width="6" height="1" fill="#000"/>
<rect x="762" y="711" width="6" height="6" fill="#0000FF"/>
<rect x="762" y="711" width="6" height="1" fill="#000"/>
<rect x="762" y="716" width="6" height="1" fill="#000"/>
<rect x="762" y="711" width="1" height="6" fill="#000"/>
<rect x="767" y="711" width="1" height="6" fill="#000"/>
<rect x="767" y="716" width="6" height="1" fill="#000"/>
<rect x="777" y="707" width="6" height="10" fill="#0000FF"/>
<rect x="777" y="707" width="6" height="1" fill="#000"/>
<rect x="777" y="716" width="6" height="1" fill="#000"/>
<rect x="777" y="707" width="1" height="10" fill="#000"/>
<rect x="782" y="707" width="1" height="10" fill="#000"/>
<rect x="782" y="716" width="7" height="1" fill="#000"/>
<rect x="793" y="711" width="6" height="6" fill="#0000FF"/>
<rect x="793" y="711" width="6" height="1" fill="#000"/>
<rect x="793" y="716" width="6" height="1" fill="#000"/>
<rect x="793" y="711" width="1" height="6" fill="#000"/>
<rect x="798" y="711" width="1" height="6" fill="#000"/>
<rect x="798" y="716" width="6" height="1" fill="#000"/>
<rect x="809" y="716" width="6" height="1" fill="#000"/>
<rect x="814" y="711" width="6" height="6" fill="#FFFF00"/>
<rect x="814" y="711" width="6" height="1" fill="#000"/>
<rect x="814" y="716" width="6" height="1" fill="#000"/>
<rect x="814" y="711" width="1" height="6" fill="#000"/>
<rect x="819" y="711" width="1" height="6" fill="#000"/>
<rect x="824" y="703" width="6" height="14" fill="#0000FF"/>
<rect x="824" y="703" width="6" height="1" fill="#000"/>
<rect x="824" y="716" width="6" height="1" fill="#000"/>
<rect x="824" y="703" width="1" height="14" fill="#000"/>
<rect x="829" y="703" width="1" height="14" fill="#000"/>
<rect x="829" y="716" width="7" height="1" fill="#000"/>
<rect x="840" y="677" width="6" height="40" fill="#0000FF"/>
<rect x="840" y="677" width="6" height="1" fill="#000"/>
<rect x="840" y="716" width="6" height="1" fill="#000"/>
<rect x="840" y="677" width="1" height="40" fill="#000"/>
<rect x="845" y="677" width="1" height="40" fill="#000"/>
<rect x="845" y="711" width="6" height="6" fill="#FFFF00"/>
<rect x="845" y="711" width="6" height="1" fill="#000"/>
<rect x="845" y="716" width="6" height="1" fill="#000"/>
<rect x="845" y="711" width="1" height="6" fill="#000"/>
<rect x="850" y="711" width="1" height="6" fill="#000"/>
<rect x="855" y="682" width="7" height="35" fill="#0000FF"/>
<rect x="855" y="682" width="7" height="1" fill="#000"/>
<rect x="855" y="716" width="7" height="1" fill="#000"/>
<rect x="855" y="682" width="1" height="35" fill="#000"/>
<rect x="861" y="682" width="1" height="35" fill="#000"/>
<rect x="861" y="711" width="6" height="6" fill="#FFFF00"/>
<rect x="861" y="711" width="6" height="1" fill="#000"/>
<rect x="861" y="716" width="6" height="1" fill="#000"/>
<rect x="861" y="711" width="1" height="6" fill="#000"/>
<rect x="866" y="711" width="1" height="6" fill="#000"/>
<rect x="871" y="648" width="6" height="69" fill="#0000FF"/>
<rect x="871" y="648" width="6" height="1" fill="#000"/>
<rect x="871" y="716" width="6" height="1" fill="#000"/>
<rect x="871" y="648" width="1" height="69" fill="#000"/>
<rect x="876" y="648" width="1" height="69" fill="#000"/>
<rect x="876" y="699" width="6" height="18" fill="#FFFF00"/>
<rect x="876" y="699" width="6" height="1" fill="#000"/>
<rect x="876" y="716" width="6" height="1" fill="#000"/>
<rect x="876" y="699" width="1" height="18" fill="#000"/>
<rect x="881" y="699" width="1" height="18" fill="#000"/>
<rect x="887" y="648" width="6" height="69" fill="#0000FF"/>
<rect x="887" y="648" width="6" height="1" fill="#000"/>
<rect x="887" y="716" width="6" height="1" fill="#000"/>
<rect x="887" y="648" width="1" height="69" fill="#000"/>
<rect x="892" y="648" width="1" height="69" fill="#000"/>
<rect x="892" y="656" width="6" height="61" fill="#FFFF00"/>
<rect x="892" y="656" width="6" height="1" fill="#000"/>
<rect x="892" y="716" width="6" height="1" fill="#000"/>
<rect x="892" y="656" width="1" height="61" fill="#000"/>
<rect x="897" y="656" width="1" height="61" fill="#000"/>
<rect x="902" y="618" width="7" height="99" fill="#0000FF"/>
<rect x="902" y="618" width="7" height="1" fill="#000"/>
<rect x="902" y="716" width="7" height="1" fill="#000"/>
<rect x="902" y="618" width="1" height="99" fill="#000"/>
<rect x="908" y="618" width="1" height="99" fill="#000"/>
<rect x="908" y="486" width="6" height="231" fill="#FFFF00"/>
<rect x="908" y="486" width="6" height="1" fill="#000"/>
<rect x="908" y="716" width="6" height="1" fill="#000"/>
<rect x="908" y="486" width="1" height="231" fill="#000"/>
<rect x="913" y="486" width="1" height="231" fill="#000"/>
<rect x="918" y="614" width="6" height="103" fill="#0000FF"/>
<rect x="918" y="614" width="6" height="1" fill="#000"/>
<rect x="918" y="716" width="6" height="1" fill="#000"/>
<rect x="918" y="614" width="1" height="103" fill="#000"/>
<rect x="923" y="614" width="1" height="103" fill="#000"/>
<rect x="923" y="418" width="6" height="299" fill="#FFFF00"/>
<rect x="923" y="418" width="6" height="1" fill="#000"/>
<rect x="923" y="716" width="6" height="1" fill="#000"/>
<rect x="923" y="418" width="1" height="299" fill="#000"/>
<rect x="928" y="418" width="1" height="299" fill="#000"/>
<rect x="934" y="660" width="6" height="57" fill="#0000FF"/>
<rect x="934" y="660" width="6" height="1" fill="#000"/>
<rect x="934" y="716" width="6" height="1" fill="#000"/>
<rect x="934" y="660" width="1" height="57" fill="#000"/>
<rect x="939" y="660" width="1" height="57" fill="#000"/>
<rect x="939" y="665" width="6" height="52" fill="#FFFF00"/>
<rect x="939" y="665" width="6" height="1" fill="#000"/>
<rect x="939" y="716" width="6" height="1" fill="#000"/>
<rect x="939" y="665" width="1" height="52" fill="#000"/>
<rect x="944" y="665" width="1" height="52" fill="#000"/>
<rect x="949" y="686" width="6" height="31" fill="#0000FF"/>
<rect x="949" y="686" width="6" height="1" fill="#000"/>
<rect x="949" y="716" width="6" height="1" fill="#000"/>
<rect x="949" y="686" width="1" height="31" fill="#000"/>
<rect x="954" y="686" width="1" height="31" fill="#000"/>
<rect x="954" y="711" width="7" height="6" fill="#FFFF00"/>
<rect x="954" y="711" width="7" height="1" fill="#000"/>
<rect x="954" y="716" width="7" height="1" fill="#000"/>
<rect x="954" y="711" width="1" height="6" fill="#000"/>
<rect x="960" y="711" width="1" height="6" fill="#000"/>
<rect x="965" y="669" width="6" height="48" fill="#0000FF"/>
<rect x="965" y="669" width="6" height="1" fill="#000"/>
<rect x="965" y="716" width="6" height="1" fill="#000"/>
<rect x="965" y="669" width="1" height="48" fill="#000"/>
<rect x="970" y="669" width="1" height="48" fill="#000"/>
<rect x="970" y="711" width="6" height="6" fill="#FFFF00"/>
<rect x="970" y="711" width="6" height="1" fill="#000"/>
<rect x="970" y="716" width="6" height="1" fill="#000"/>
<rect x="970" y="711" width="1" height="6" fill="#000"/>
<rect x="975" y="711" width="1" height="6" fill="#000"/>
<rect x="981" y="690" width="6" height="27" fill="#0000FF"/>
<rect x="981" y="690" width="6" height="1" fill="#000"/>
<rect x="981" y="716" width="6" height="1" fill="#000"/>
<rect x="981" y="690" width="1" height="27" fill="#000"/>
<rect x="986" y="690" width="1" height="27" fill="#000"/>
<rect x="986" y="716" width="6" height="1" fill="#000"/>
<rect x="996" y="699" width="6" height="18" fill="#0000FF"/>
<rect x="996" y="699" width="6" height="1" fill="#000"/>
<rect x="996" y="716" width="6" height="1" fill="#000"/>
<rect x="996" y="699" width="1" height="18" fill="#000"/>
<rect x="1001" y="699" width="1" height="18" fill="#000"/>
<rect x="1001" y="716" width="7" height="1" fill="#000"/>
<rect x="1012" y="711" width="6" height="6" fill="#0000FF"/>
<rect x="1012" y="711" width="6" height="1" fill="#000"/>
<rect x="1012" y="716" width="6" height="1" fill="#000"/>
<rect x="1012" y="711" width="1" height="6" fill="#000"/>
<rect x="1017" y="711" width="1" height="6" fill="#000"/>
<rect x="1017" y="716" width="6" height="1" fill="#000"/>
<rect x="1027" y="716" width="7" height="1" fill="#000"/>
<rect x="1033" y="716" width="6" height="1" fill="#000"/>
<rect x="1043" y="716" width="6" height="1" fill="#000"/>
<rect x="1048" y="711" width="7" height="6" fill="#FFFF00"/>
<rect x="1048" y="711" width="7" height="1" fill="#000"/>
<rect x="1048" y="716" width="7" height="1" fill="#000"/>
<rect x="1048" y="711" width="1" height="6" fill="#000"/>
<rect x="1054" y="711" width="1" height="6" fill="#000"/>
<rect x="1059" y="716" width="6" height="1" fill="#000"/>
<rect x="1064" y="716" width="6" height="1" fill="#000"/>
<rect x="1074" y="716" width="7" height="1" fill="#000"/>
<rect x="1080" y="716" width="6" height="1" fill="#000"/>
<rect x="1090" y="716" width="6" height="1" fill="#000"/>
<rect x="1095" y="716" width="6" height="1" fill="#000"/>
<rect x="1106" y="716" width="6" height="1" fill="#000"/>
<rect x="1111" y="716" width="6" height="1" fill="#000"/>
<rect x="1121" y="716" width="7" height="1" fill="#000"/>
<rect x="1127" y="716" width="6" height="1" fill="#000"/>
<rect x="1137" y="716" width="6" height="1" fill="#000"/>
<rect x="1142" y="716" width="6" height="1" fill="#000"/>
</g>
<rect x="993" y="465" width="174" height="49" fill="#fff"/>
<rect x="993" y="465" width="174" height="1" fill="#000"/>
<rect x="993" y="513" width="174" height="1" fill="#000"/>
<rect x="993" y="465" width="1" height="49" fill="#000"/>
<rect x="1166" y="465" width="1" height="49" fill="#000"/>
<rect x="1005" y="477" width="9" height="8" fill="#0000FF" stroke="#000" stroke-width="1" transform="translate(0.5,0.5)"/>
<rect x="1005" y="493" width="9" height="8" fill="#FFFF00" stroke="#000" stroke-width="1" transform="translate(0.5,0.5)"/>
<text x="1026.3" y="486.3" font-size="13" text-anchor="start" font-weight="normal" fill="#000" textLength="129.5" lengthAdjust="spacing">FLOC return frequency</text>
<text x="1026.3" y="502.5" font-size="13" text-anchor="start" font-weight="normal" fill="#000" textLength="133.2" lengthAdjust="spacing">GSPC return frequency</text>
</svg></body></html>
